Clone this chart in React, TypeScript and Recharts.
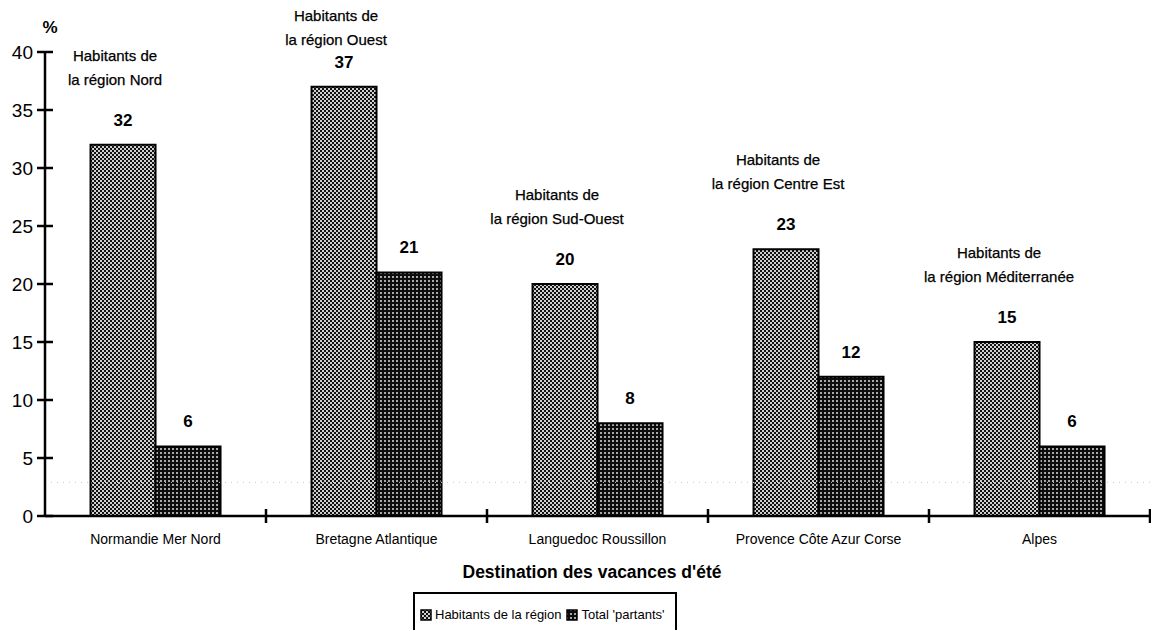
import { BarChart, Bar, XAxis, YAxis, Legend, LabelList, ReferenceLine } from 'recharts';

// Destination des vacances d'été - part des habitants de la région vs total "partants"
const destinations = [
  'Normandie Mer Nord',
  'Bretagne Atlantique',
  'Languedoc Roussillon',
  'Provence Côte Azur Corse',
  'Alpes',
];
const habitantsRegion = [32, 37, 20, 23, 15];
const totalPartants = [6, 21, 8, 12, 6];
const regionNames = ['Nord', 'Ouest', 'Sud-Ouest', 'Centre Est', 'Méditerranée'];
const yTicks = [0, 5, 10, 15, 20, 25, 30, 35, 40];

const data = destinations.map((name, i) => ({
  name,
  habitants: habitantsRegion[i],
  total: totalPartants[i],
}));

const FONT = "'Liberation Sans', Arial, sans-serif";

const YTick = (p: any) => (
  <g>
    <line x1={p.x - 8} x2={p.x + 8} y1={p.y} y2={p.y} stroke="#000" strokeWidth={2.5} />
    <text x={p.x - 12} y={p.y} dy="0.36em" textAnchor="end" fontSize={19} fontFamily={FONT} fill="#000">
      {p.payload.value}
    </text>
  </g>
);

const XTick = (p: any) => {
  const band = (p.width || 1105) / (p.visibleTicksCount || 5);
  return (
    <g>
      <line x1={p.x + band / 2} x2={p.x + band / 2} y1={p.y - 7} y2={p.y + 7} stroke="#000" strokeWidth={2.5} />
      <text x={p.x} y={p.y + 28} textAnchor="middle" fontSize={14} fontFamily={FONT} fill="#000">
        {p.payload.value}
      </text>
    </g>
  );
};

const ValueLabel = (p: any) => (
  <text x={p.x + p.width / 2} y={p.y - 19} textAnchor="middle" fontSize={17} fontWeight="bold" fontFamily={FONT} fill="#000">
    {p.value}
  </text>
);

// region annotation sits above the value label, kept inside the top of the chart
const RegionLabel = (p: any) => {
  const cx = p.x + p.width / 2 - 8;
  const y1 = Math.max(p.y - 84, 21);
  return (
    <text textAnchor="middle" fontSize={15} fontFamily={FONT} fill="#000" stroke="#000" strokeWidth={0.25}>
      <tspan x={cx} y={y1}>Habitants de</tspan>
      <tspan x={cx} y={y1 + 24}>la région {regionNames[p.index]}</tspan>
    </text>
  );
};

const LegendBox = () => (
  <div
    style={{
      border: '2px solid #000',
      boxSizing: 'border-box',
      width: 264,
      height: 50,
      padding: '13px 0 0 5px',
      fontFamily: FONT,
      fontSize: 13,
      color: '#000',
      display: 'flex',
      alignItems: 'flex-start',
      whiteSpace: 'nowrap',
      lineHeight: '16px',
    }}
  >
    <svg width={12} height={12} style={{ marginRight: 3, marginTop: 2 }}>
      <rect x={1} y={1} width={10} height={10} fill="url(#pLight)" stroke="#000" strokeWidth={1.5} />
    </svg>
    <span style={{ marginRight: 5 }}>Habitants de la région</span>
    <svg width={12} height={12} style={{ marginRight: 3, marginTop: 2 }}>
      <rect x={1} y={1} width={10} height={10} fill="url(#pDark)" stroke="#000" strokeWidth={1.5} />
    </svg>
    <span>Total 'partants'</span>
  </div>
);

export default function App() {
  return (
    <div style={{ position: 'absolute', left: 0, top: 0, width: 1151, height: 630, background: '#fff' }}>
      <BarChart
        width={1151}
        height={630}
        data={data}
        margin={{ top: 52, right: 1, bottom: 84, left: 0 }}
        barCategoryGap="20.6%"
        barGap={0}
      >
        <defs>
          <pattern id="pLight" width={4} height={4} patternUnits="userSpaceOnUse">
            <rect width={4} height={4} fill="#111" />
            <rect x={0} y={0} width={2} height={2} fill="#cfcfcf" />
            <rect x={2} y={2} width={2} height={2} fill="#cfcfcf" />
          </pattern>
          <pattern id="pDark" width={4} height={4} patternUnits="userSpaceOnUse">
            <rect width={4} height={4} fill="#0d0d0d" />
            <rect x={0} y={0} width={2} height={2} fill="#a8a8a8" />
          </pattern>
        </defs>
        <ReferenceLine y={2.9} stroke="#c8c8c8" strokeDasharray="1 5" />
        <XAxis
          dataKey="name"
          height={30}
          tickLine={false}
          tickSize={0}
          tickMargin={0}
          axisLine={{ stroke: '#000', strokeWidth: 2.5 }}
          tick={<XTick />}
          interval={0}
        />
        <YAxis
          width={45}
          domain={[0, 40]}
          ticks={yTicks}
          interval={0}
          tickLine={false}
          tickSize={0}
          tickMargin={0}
          axisLine={{ stroke: '#000', strokeWidth: 2.5 }}
          tick={<YTick />}
        />
        <Bar dataKey="habitants" name="Habitants de la région" fill="url(#pLight)" stroke="#000" strokeWidth={2} isAnimationActive={false}>
          <LabelList dataKey="habitants" content={<ValueLabel />} />
          <LabelList dataKey="habitants" content={<RegionLabel />} />
        </Bar>
        <Bar dataKey="total" name="Total 'partants'" fill="url(#pDark)" stroke="#000" strokeWidth={2} isAnimationActive={false}>
          <LabelList dataKey="total" content={<ValueLabel />} />
        </Bar>
        <Legend
          layout="vertical"
          align="center"
          verticalAlign="middle"
          content={<LegendBox />}
          wrapperStyle={{ left: 413, top: 592, width: 264, height: 50 }}
        />
        <text x={50} y={33} textAnchor="middle" fontSize={17} fontWeight="bold" fontFamily={FONT} fill="#000">
          %
        </text>
        <text x={592} y={578} textAnchor="middle" fontSize={17.5} fontWeight="bold" fontFamily={FONT} fill="#000">
          Destination des vacances d'été
        </text>
      </BarChart>
    </div>
  );
}
